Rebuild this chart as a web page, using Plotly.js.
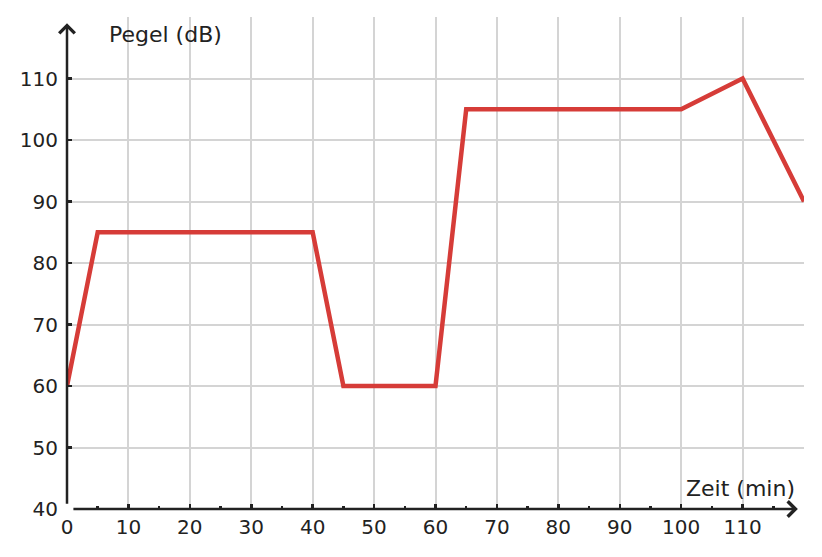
<!DOCTYPE html>
<html>
<head>
<meta charset="utf-8">
<script src="https://cdn.plot.ly/plotly-3.0.1.min.js"></script>
<style>
  html, body { margin: 0; padding: 0; background: #fff; }
  #chart { width: 822px; height: 557px; }
</style>
</head>
<body>
<div id="chart"></div>
<script>
// Schallpegel über die Zeit
const zeit = [0, 5, 40, 45, 60, 65, 100, 110, 120];
const pegel = [60, 85, 85, 60, 60, 105, 105, 110, 90];

const xTicks = [0, 10, 20, 30, 40, 50, 60, 70, 80, 90, 100, 110];
const yTicks = [40, 50, 60, 70, 80, 90, 100, 110];

const ink = '#222';
const gridColor = '#d4d4d4';
const tickFont = { family: 'DejaVu Sans, sans-serif', size: 20, color: ink };
const titleFont = { family: 'DejaVu Sans, sans-serif', size: 22, color: ink };

const trace = {
  x: zeit,
  y: pegel,
  mode: 'lines',
  line: { color: '#d63c38', width: 4.5 },
  cliponaxis: false,
  hoverinfo: 'skip',
};

const layout = {
  width: 822,
  height: 557,
  margin: { l: 67, r: 18, t: 17, b: 48 },
  paper_bgcolor: '#fff',
  plot_bgcolor: '#fff',
  showlegend: false,
  font: tickFont,
  xaxis: {
    range: [0, 120],
    tickvals: xTicks,
    ticktext: xTicks.map(String),
    tickfont: tickFont,
    showgrid: true,
    gridcolor: gridColor,
    gridwidth: 2,
    zeroline: false,
    showline: false,
    ticks: 'inside',
    ticklen: 5,
    tickwidth: 2.5,
    tickcolor: ink,
    ticklabelstandoff: 4,
    minor: { dtick: 5, tick0: 0, ticks: 'inside', ticklen: 3, tickwidth: 2.5, tickcolor: ink, showgrid: false },
    fixedrange: true,
  },
  yaxis: {
    range: [40, 120],
    tickvals: yTicks,
    ticktext: yTicks.map(String),
    tickfont: tickFont,
    showgrid: true,
    gridcolor: gridColor,
    gridwidth: 2,
    zeroline: false,
    showline: false,
    ticks: 'inside',
    ticklen: 5,
    tickwidth: 2.5,
    tickcolor: ink,
    ticklabelstandoff: 8,
    fixedrange: true,
  },
  annotations: [
    // x axis with arrow
    {
      x: 119, y: 40, ax: 0.8, ay: 40,
      xref: 'x', yref: 'y', axref: 'x', ayref: 'y',
      showarrow: true, arrowhead: 4, arrowsize: 1.2, arrowwidth: 2.5,
      arrowcolor: ink, text: '', standoff: 0, startstandoff: 0,
    },
    // y axis with arrow
    {
      x: 0, y: 119, ax: 0, ay: 40.6,
      xref: 'x', yref: 'y', axref: 'x', ayref: 'y',
      showarrow: true, arrowhead: 4, arrowsize: 1.2, arrowwidth: 2.5,
      arrowcolor: ink, text: '', standoff: 0, startstandoff: 0,
    },
    {
      text: 'Pegel (dB)', x: 6.5, y: 117.2, xref: 'x', yref: 'y',
      xanchor: 'left', yanchor: 'middle', showarrow: false, font: titleFont,
    },
    {
      text: 'Zeit (min)', x: 118.9, y: 43.4, xref: 'x', yref: 'y',
      xanchor: 'right', yanchor: 'middle', showarrow: false, font: titleFont,
    },
  ],
};

Plotly.newPlot('chart', [trace], layout, { displayModeBar: false, staticPlot: true });
</script>
</body>
</html>
